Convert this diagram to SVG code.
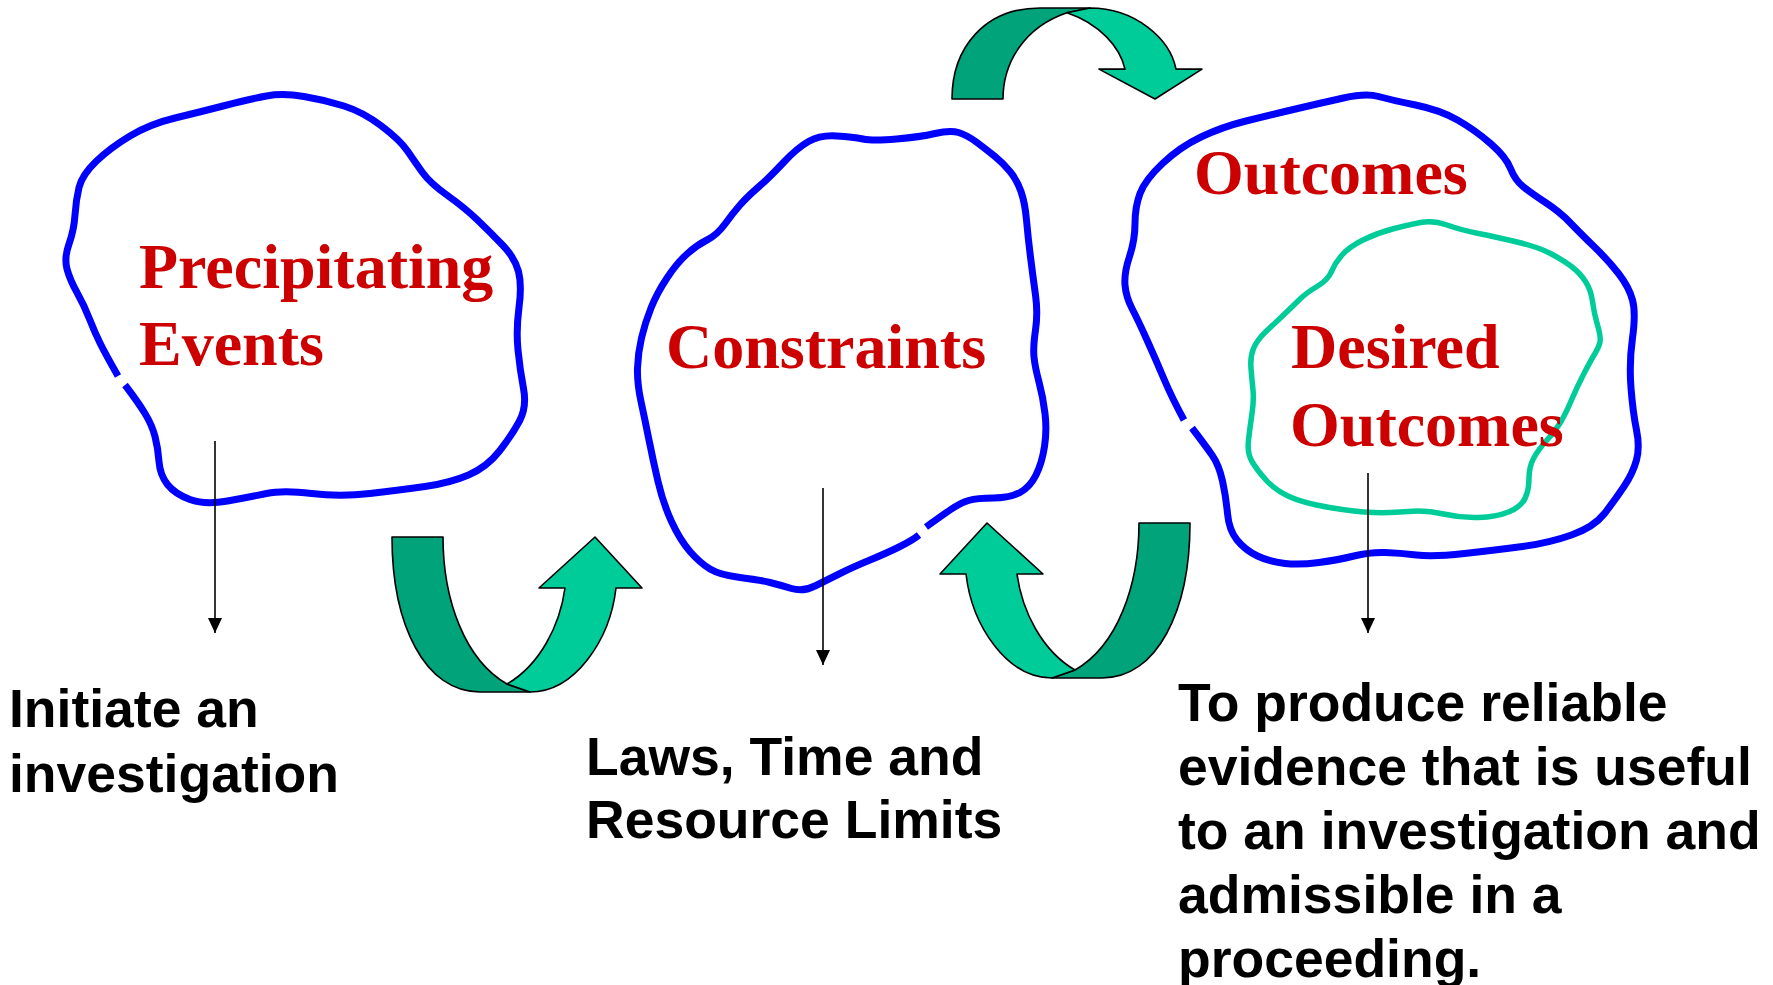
<svg xmlns="http://www.w3.org/2000/svg" width="1773" height="985" viewBox="0 0 1773 985">
<style>
.blob{fill:none;stroke:#0000FF;stroke-width:7;stroke-linejoin:round}
.inner{fill:none;stroke:#00CC99;stroke-width:5.5;stroke-linejoin:round}
.red{font-family:"Liberation Serif","Times New Roman",serif;font-weight:bold;font-size:64px;fill:#CC0000}
.blk{font-family:"Liberation Sans",Arial,sans-serif;font-weight:bold;font-size:53.5px;fill:#000000}
.dark{fill:#00A37A;stroke:#000;stroke-width:1.6;stroke-linejoin:round}
.light{fill:#00CC99;stroke:#000;stroke-width:1.6;stroke-linejoin:round}
.conn{stroke:#000;stroke-width:1.6;fill:none}
</style>
<defs>
<marker id="ah" markerUnits="userSpaceOnUse" markerWidth="16" markerHeight="14" refX="15" refY="7" orient="auto">
<path d="M0,0 L15,7 L0,14 Z" fill="#000"/>
</marker>
<g id="curvedArrow">
<path class="dark" d="M392,537 L443,537 C443,600 465,660 507,684 L530,692 L480,692 C425,692 392,625 392,537 Z"/>
<path class="light" d="M507,684 C540,665 560,625 565,588 L539,588 L595,537 L642,588 L616,588 C610,640 575,692 530,692 Z"/>
</g>
</defs>
<rect width="1773" height="985" fill="#FFFFFF"/>

<g id="precipitating-events">
<path class="blob" d="M125,385 Q138,402 145,413.5 Q152,425 155,436.5 Q158,448 159,461.5 Q160,475 167.5,484.5 Q175,494 190,499.5 Q205,505 227.5,501 Q250,497 266.5,493.5 Q283,490 311.5,493.5 Q340,497 370,493.5 Q400,490 425,486.5 Q450,483 468.5,475 Q487,467 499.5,451 Q512,435 519.5,421 Q527,407 523.5,388.5 Q520,370 518,350 Q516,330 519,307.5 Q522,285 518.5,271.5 Q515,258 502.5,245 Q490,232 477.5,220 Q465,208 447.5,195.5 Q430,183 422.5,172.5 Q415,162 407.5,151 Q400,140 381.5,126 Q363,112 344,106 Q325,100 304,96.5 Q283,93 266.5,96 Q250,99 225,105.5 Q200,112 175,118 Q150,124 130,136 Q110,148 96,161.5 Q82,175 79,187.5 Q76,200 75,215 Q74,230 69,244 Q64,258 67,269 Q70,280 77,292.5 Q84,305 89.5,319 Q95,333 100.5,344 Q106,355 118,376"/>
<text class="red" x="139" y="288">Precipitating</text>
<text class="red" x="139" y="365">Events</text>
</g>

<g id="constraints">
<path class="blob" d="M926,527 Q940,517 950,510 Q960,503 968.5,500.5 Q977,498 993.5,498 Q1010,498 1020,492.5 Q1030,487 1036,475 Q1042,463 1044.5,446.5 Q1047,430 1045,413.5 Q1043,397 1039,382 Q1035,367 1034,357 Q1033,347 1035.5,330 Q1038,313 1035.5,295 Q1033,277 1030.5,257 Q1028,237 1026.5,220 Q1025,203 1021,191.5 Q1017,180 1010,171.5 Q1003,163 995,156.5 Q987,150 977,142.5 Q967,135 958.5,132.5 Q950,130 935,133.5 Q920,137 896.5,139 Q873,141 863,139 Q853,137 836.5,136 Q820,135 808.5,141.5 Q797,148 783.5,162.5 Q770,177 758.5,187 Q747,197 740,205 Q733,213 725,224 Q717,235 707,240 Q697,245 687,254 Q677,263 667,278 Q657,293 651,308 Q645,323 641.5,338 Q638,353 637.5,368 Q637,383 641,401.5 Q645,420 649,440 Q653,460 658,481.5 Q663,503 671.5,521.5 Q680,540 690,551.5 Q700,563 710,569 Q720,575 740,577.5 Q760,580 770,582.5 Q780,585 791.5,588.5 Q803,592 815,586 Q827,580 840,573.5 Q853,567 870,560 Q887,553 900,546.5 Q913,540 919,535"/>
<text class="red" x="666" y="368">Constraints</text>
</g>

<g id="outcomes">
<path class="blob" d="M1192,428 Q1205,445 1212,455 Q1219,465 1222.5,481 Q1226,497 1227.5,513.5 Q1229,530 1237,540 Q1245,550 1257.5,556 Q1270,562 1285,563.5 Q1300,565 1319,562.5 Q1338,560 1354,556 Q1370,552 1385,552.5 Q1400,553 1416.5,555 Q1433,557 1464.5,553.5 Q1496,550 1522.5,546.5 Q1549,543 1571.5,535 Q1594,527 1604.5,513.5 Q1615,500 1624,486.5 Q1633,473 1636.5,460 Q1640,447 1636.5,430 Q1633,413 1631,388 Q1629,363 1632.5,338 Q1636,313 1632.5,300 Q1629,287 1618.5,273.5 Q1608,260 1594,246.5 Q1580,233 1570,222.5 Q1560,212 1545.5,202.5 Q1531,193 1523,186.5 Q1515,180 1510.5,168.5 Q1506,157 1490.5,143.5 Q1475,130 1457.5,120 Q1440,110 1415.5,105 Q1391,100 1378.5,96.5 Q1366,93 1343.5,98 Q1321,103 1295.5,109 Q1270,115 1246,121 Q1222,127 1201,137 Q1180,147 1162.5,163.5 Q1145,180 1140,193.5 Q1135,207 1135,223.5 Q1135,240 1129.5,256.5 Q1124,273 1125,285 Q1126,297 1132,308.5 Q1138,320 1147,340 Q1156,360 1164,379 Q1172,398 1184,420"/>
<text class="red" x="1194" y="194">Outcomes</text>
</g>

<g id="desired-outcomes">
<path class="inner" d="M1447,225 Q1433,220 1420.5,222.5 Q1408,225 1392.5,229 Q1377,233 1363,240 Q1349,247 1342,255 Q1335,263 1331.5,271.5 Q1328,280 1317,286.5 Q1306,293 1299,300 Q1292,307 1283.5,315 Q1275,323 1266,331.5 Q1257,340 1253.5,348.5 Q1250,357 1251,368.5 Q1252,380 1253,390 Q1254,400 1252,413.5 Q1250,427 1248.5,440 Q1247,453 1252,461.5 Q1257,470 1266,480 Q1275,490 1289,496.5 Q1303,503 1329.5,507.5 Q1356,512 1373.5,512.5 Q1391,513 1408.5,511.5 Q1426,510 1443.5,514 Q1461,518 1478.5,517.5 Q1496,517 1508.5,512 Q1521,507 1525,498.5 Q1529,490 1529,478.5 Q1529,467 1533.5,458.5 Q1538,450 1547,440 Q1556,430 1561,421.5 Q1566,413 1571.5,400 Q1577,387 1584,373.5 Q1591,360 1595,353.5 Q1599,347 1600,342 Q1601,337 1597.5,325 Q1594,313 1592.5,301.5 Q1591,290 1585.5,281.5 Q1580,273 1571.5,266.5 Q1563,260 1550.5,253.5 Q1538,247 1517,242 Q1496,237 1478.5,233.5 Q1461,230 1447,225 Z"/>
<text class="red" x="1291" y="368">Desired</text>
<text class="red" x="1290" y="446">Outcomes</text>
</g>

<g id="arrow-left">
<use href="#curvedArrow"/>
</g>
<g id="arrow-right">
<use href="#curvedArrow" transform="translate(1582,-14) scale(-1,1)"/>
</g>
<g id="arrow-top">
<path class="dark" d="M952,99 L1003,99 C1003,62 1025,26.8 1067,12.7 L1090,8 L1040,8 C985,8 952,47.3 952,99 Z"/>
<path class="light" d="M1067,12.7 C1100,23.9 1120,47.3 1125,69.1 L1099,69.1 L1155,99 L1202,69.1 L1176,69.1 C1170,38.5 1135,8 1090,8 Z"/>
</g>

<g id="label-initiate">
<text class="blk" x="9" y="727">Initiate an</text>
<text class="blk" x="9" y="792">investigation</text>
</g>
<g id="label-laws">
<text class="blk" x="586" y="775">Laws, Time and</text>
<text class="blk" x="586" y="838">Resource Limits</text>
</g>
<g id="label-produce">
<text class="blk" x="1178" y="721">To produce reliable</text>
<text class="blk" x="1178" y="785">evidence that is useful</text>
<text class="blk" x="1178" y="849">to an investigation and</text>
<text class="blk" x="1178" y="913">admissible in a</text>
<text class="blk" x="1178" y="977">proceeding.</text>
</g>

<g id="connectors">
<line class="conn" x1="215" y1="441" x2="215" y2="633" marker-end="url(#ah)"/>
<line class="conn" x1="823" y1="488" x2="823" y2="665" marker-end="url(#ah)"/>
<line class="conn" x1="1368" y1="473" x2="1368" y2="633" marker-end="url(#ah)"/>
</g>
</svg>
